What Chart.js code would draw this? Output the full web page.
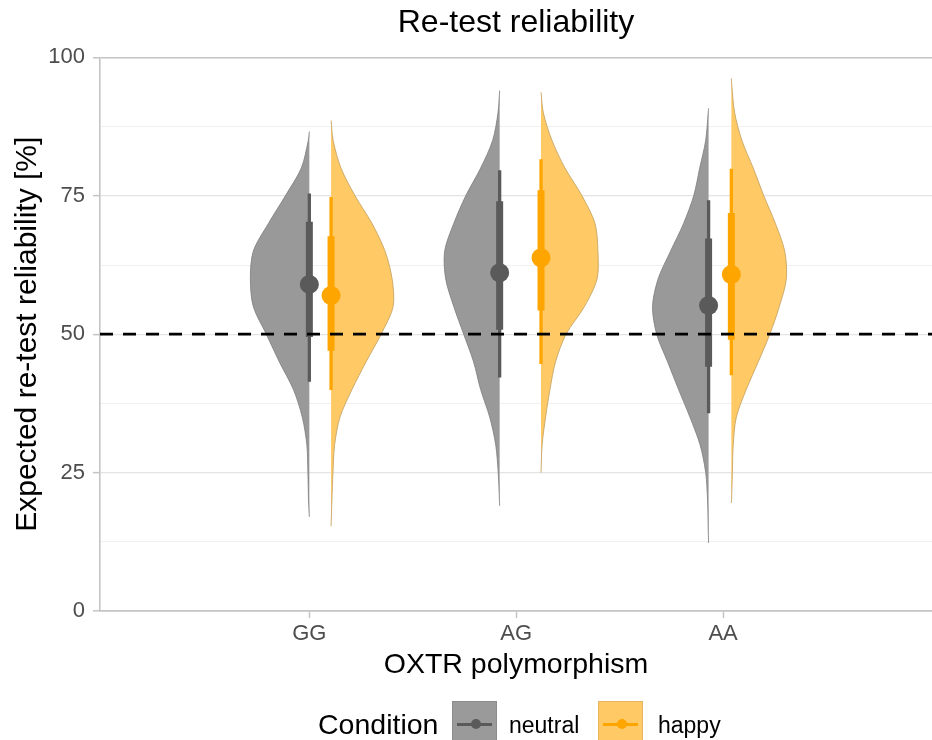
<!DOCTYPE html>
<html>
<head>
<meta charset="utf-8">
<title>Re-test reliability</title>
<script src="https://cdn.jsdelivr.net/npm/chart.js@4/dist/chart.umd.min.js"></script>
<style>
  body { margin: 0; background: #fff; font-family: 'Liberation Sans', Arial, sans-serif; }
  #wrap { position: relative; width: 932px; height: 740px; overflow: hidden; }
  .txt { position: absolute; line-height: 1; white-space: nowrap; color: #000; }
  .key { position: absolute; top: 701px; width: 45px; height: 46px; box-sizing: border-box; }
  .key .ln { position: absolute; left: 4px; right: 4px; top: 20.6px; height: 3.3px; }
  .key .pt { position: absolute; left: 17.5px; top: 17.3px; width: 10px; height: 10px; border-radius: 50%; }
</style>
</head>
<body>
<div id="wrap">
  <canvas id="chart" width="932" height="740"></canvas>
  <div class="txt" style="left:318px; top:710px; font-size:28.5px;">Condition</div>
  <div class="key" style="left:452px; background:#9a9a9a; border:1px solid #8c8c8c;">
    <div class="ln" style="background:#5a5a5a;"></div><div class="pt" style="background:#5a5a5a;"></div>
  </div>
  <div class="txt" style="left:509px; top:714px; font-size:23px;">neutral</div>
  <div class="key" style="left:598px; background:#ffc966; border:1px solid #e6b45c;">
    <div class="ln" style="background:#ffa500;"></div><div class="pt" style="background:#ffa500;"></div>
  </div>
  <div class="txt" style="left:658px; top:714px; font-size:23px;">happy</div>
</div>
<script>
// categories and axis
const categories = ['GG', 'AG', 'AA'];
const yLabelTicks = [0, 25, 50, 75, 100];
const yGridTicks = [0, 12.5, 25, 37.5, 50, 62.5, 75, 87.5, 100];
const referenceLine = 50;

// dodge of the half violins around each category (x units)
const neutralOffset = [0.0, -0.08, -0.07];
const happyOffset = [0.105, 0.12, 0.04];

// point intervals: median, 66% and 95%
const neutralMedian = [59.0, 61.1, 55.2];
const neutral66Lo = [49.5, 50.8, 44.1];
const neutral66Hi = [70.3, 74.0, 67.3];
const neutral95Lo = [41.4, 42.2, 35.7];
const neutral95Hi = [75.4, 79.6, 74.2];

const happyMedian = [57.0, 63.8, 60.8];
const happy66Lo = [47.0, 54.3, 49.0];
const happy66Hi = [67.7, 76.0, 71.9];
const happy95Lo = [39.9, 44.6, 42.6];
const happy95Hi = [74.8, 81.6, 79.9];

// range of the draws (violin tips)
const neutralMin = [17.0, 19.0, 12.3];
const neutralMax = [86.6, 94.0, 90.8];
const happyMin = [15.3, 25.0, 19.5];
const happyMax = [88.6, 93.7, 96.2];

// density (half width, in hundredths of a category step) at these values
const densityY = [10, 15, 20, 25, 30, 35, 40, 45, 50, 55, 60, 65, 70, 75, 80, 85, 90, 95, 100];
const densNeutralGG = [0, 0, 0.4, 0.7, 1.2, 3.4, 7.7, 14.5, 20.8, 27.1, 28.5, 27.1, 19.8, 11.6, 3.9, 0.5, 0, 0, 0];
const densNeutralAG = [0, 0, 0.1, 0.7, 1.9, 4.8, 9.2, 12.6, 17.4, 22.2, 26.1, 26.6, 22.2, 16.4, 9.2, 3.4, 0.8, 0, 0];
const densNeutralAA = [0, 0.2, 0.5, 1.4, 4.1, 9.0, 14.5, 19.8, 25.1, 27.1, 24.4, 18.4, 12.1, 7.2, 4.3, 1.4, 0.2, 0, 0];
const densHappyGG = [0, 0, 0.4, 0.9, 1.7, 4.3, 10.1, 16.9, 24.2, 30.0, 29.5, 26.1, 19.8, 11.6, 4.8, 1.0, 0, 0, 0];
const densHappyAG = [0, 0, 0, 0.1, 0.5, 2.2, 4.3, 7.0, 12.1, 21.0, 27.1, 27.5, 26.1, 19.8, 11.6, 5.3, 1.1, 0, 0];
const densHappyAA = [0, 0, 0.1, 0.5, 0.9, 2.4, 7.2, 13.0, 18.6, 23.2, 26.6, 25.8, 21.3, 15.7, 10.6, 5.1, 1.6, 0.2, 0];

const neutralDens = [densNeutralGG, densNeutralAG, densNeutralAA];
const happyDens = [densHappyGG, densHappyAG, densHappyAA];

const axisColor = '#c4c4c4';
const neutralFill = 'rgba(150,150,150,0.97)';
const neutralDark = '#5a5a5a';
const happyFill = 'rgba(255,201,102,1)';
const happyDark = '#ffa500';

Chart.defaults.font.family = "'Liberation Sans', Arial, sans-serif";

function halfViolin(pos, dens, lo, hi, side) {
    const pts = [{ x: pos, y: lo }];
    densityY.forEach(function (y, i) {
        if (y > lo && y < hi) pts.push({ x: pos + side * dens[i] / 100, y: y });
    });
    pts.push({ x: pos, y: hi });
    return pts;
}

const datasets = [];
categories.forEach(function (cat, i) {
    const pn = i + 1 + neutralOffset[i];
    const ph = i + 1 + happyOffset[i];

    // violins
    datasets.push({ label: 'neutral ' + cat, data: halfViolin(pn, neutralDens[i], neutralMin[i], neutralMax[i], -1),
        showLine: true, fill: 'shape', backgroundColor: neutralFill, borderColor: 'rgba(125,125,125,0.8)',
        borderWidth: 1, pointRadius: 0, tension: 0.3, order: 4 });
    datasets.push({ label: 'happy ' + cat, data: halfViolin(ph, happyDens[i], happyMin[i], happyMax[i], 1),
        showLine: true, fill: 'shape', backgroundColor: happyFill, borderColor: 'rgba(200,165,100,0.9)',
        borderWidth: 1, pointRadius: 0, tension: 0.3, order: 4 });

    // 95% intervals
    datasets.push({ data: [{ x: pn, y: neutral95Lo[i] }, { x: pn, y: neutral95Hi[i] }], showLine: true,
        borderColor: neutralDark, borderWidth: 3.3, pointRadius: 0, order: 3 });
    datasets.push({ data: [{ x: ph, y: happy95Lo[i] }, { x: ph, y: happy95Hi[i] }], showLine: true,
        borderColor: happyDark, borderWidth: 3.3, pointRadius: 0, order: 3 });

    // 66% intervals
    datasets.push({ data: [{ x: pn, y: neutral66Lo[i] }, { x: pn, y: neutral66Hi[i] }], showLine: true,
        borderColor: neutralDark, borderWidth: 7, pointRadius: 0, order: 2 });
    datasets.push({ data: [{ x: ph, y: happy66Lo[i] }, { x: ph, y: happy66Hi[i] }], showLine: true,
        borderColor: happyDark, borderWidth: 7, pointRadius: 0, order: 2 });

    // medians
    datasets.push({ data: [{ x: pn, y: neutralMedian[i] }], pointRadius: 9.5, pointBackgroundColor: neutralDark,
        pointBorderWidth: 0, order: 1 });
    datasets.push({ data: [{ x: ph, y: happyMedian[i] }], pointRadius: 9.5, pointBackgroundColor: happyDark,
        pointBorderWidth: 0, order: 1 });
});

const refLinePlugin = {
    id: 'refLine',
    afterDatasetsDraw: function (chart) {
        const ctx = chart.ctx;
        const area = chart.chartArea;
        const y = chart.scales.y.getPixelForValue(referenceLine);
        ctx.save();
        ctx.beginPath();
        ctx.setLineDash([13, 10]);
        ctx.lineWidth = 2.8;
        ctx.strokeStyle = '#000';
        ctx.moveTo(area.left, y);
        ctx.lineTo(area.right, y);
        ctx.stroke();
        ctx.restore();
    }
};

new Chart(document.getElementById('chart'), {
    type: 'scatter',
    data: { datasets: datasets },
    plugins: [refLinePlugin],
    options: {
        responsive: false,
        animation: false,
        events: [],
        layout: { autoPadding: false, padding: { left: 0, right: 0, top: 0, bottom: 45 } },
        plugins: {
            legend: { display: false },
            tooltip: { enabled: false },
            title: {
                display: true, text: 'Re-test reliability', color: '#000', fullSize: false,
                font: { size: 32, weight: 'normal' }, padding: { top: 4, bottom: 15 }
            }
        },
        scales: {
            x: {
                type: 'linear', min: -0.012, max: 4.01,
                afterBuildTicks: function (s) { s.ticks = categories.map(function (c, i) { return { value: i + 1 }; }); },
                afterFit: function (s) { s.height = 84; },
                ticks: {
                    color: '#4d4d4d', font: { size: 22 }, padding: 3, autoSkip: false, maxRotation: 0,
                    callback: function (v) { return categories[Math.round(v) - 1] || ''; }
                },
                grid: { drawOnChartArea: false, tickLength: 7, tickColor: axisColor, tickWidth: 1.5 },
                border: { display: true, color: axisColor, width: 1.6 },
                title: { display: true, text: 'OXTR polymorphism', color: '#000', font: { size: 28.5 }, padding: { top: 0, bottom: 13 } }
            },
            y: {
                min: 0, max: 100,
                afterBuildTicks: function (s) { s.ticks = yGridTicks.map(function (v) { return { value: v }; }); },
                afterFit: function (s) { s.width = 100; },
                ticks: {
                    color: '#4d4d4d', font: { size: 22 }, padding: 8, autoSkip: false,
                    callback: function (v) { return yLabelTicks.indexOf(v) >= 0 ? String(v) : ''; }
                },
                grid: {
                    color: function (c) {
                        const v = c.tick ? c.tick.value : 0;
                        if (v === 100 || v === 0) return axisColor;
                        return yLabelTicks.indexOf(v) >= 0 ? '#e4e4e4' : '#f0f0f0';
                    },
                    lineWidth: function (c) {
                        const v = c.tick ? c.tick.value : 0;
                        if (v === 100 || v === 0) return 1.6;
                        return yLabelTicks.indexOf(v) >= 0 ? 1.3 : 1;
                    },
                    tickLength: 7,
                    tickWidth: 1.5,
                    tickColor: function (c) {
                        const v = c.tick ? c.tick.value : 0;
                        return yLabelTicks.indexOf(v) >= 0 ? axisColor : 'rgba(0,0,0,0)';
                    }
                },
                border: { display: true, color: axisColor, width: 1.6 },
                title: { display: true, text: 'Expected re-test reliability [%]', color: '#000', font: { size: 30 }, padding: { top: 10, bottom: 0 } }
            }
        }
    }
});
</script>
</body>
</html>
